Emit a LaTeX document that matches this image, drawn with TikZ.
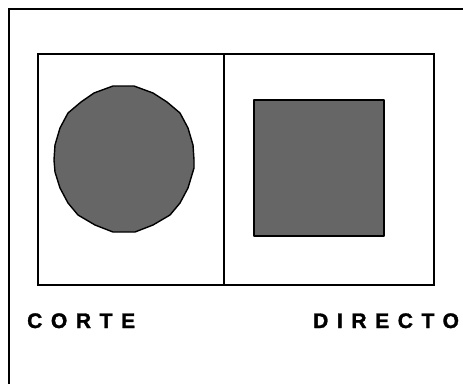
\documentclass[tikz,border=0pt]{standalone}
\usepackage{fontspec}
\setmainfont{Liberation Sans}
\newfontfamily\labelfont{Liberation Sans Bold}[LetterSpace=41,FakeBold=1.5]
\newcommand\captionfont{\labelfont\fontsize{21}{25}\selectfont}
\tikzset{
  frameline/.style={line width=2pt, line cap=rect},
  panel/.style={line width=2pt},
  solid shape/.style={draw=black, line width=1.4pt, fill=shapegray, line join=round},
  caption/.style={inner sep=0pt, anchor=base west},
}
\definecolor{shapegray}{HTML}{666666}
\begin{document}
\begin{tikzpicture}[x=1pt,y=-1pt]
\useasboundingbox (0,0) rectangle (463,383);
% outer frame (only top and left visible)
\coordinate (ftl) at (9,9);
\coordinate (ftr) at (470,9);
\coordinate (fbl) at (9,390);
\draw[frameline] (ftr) -- (ftl) -- (fbl);
% panels
\draw[panel] (38,54) rectangle (434,285);
\draw[panel] (224,54) -- (224,285);
% polygonal circle
\draw[solid shape] (113,86) -- (134,86) -- (153,93) -- (167,102) -- (180,113) -- (188,128) -- (193,145) -- (194,160) -- (194,168) -- (188,188) -- (180,203) -- (170,215) -- (153,225) -- (135,232) -- (113,232) -- (95,225) -- (78,215) -- (68,203) -- (60,188) -- (55,172) -- (54,160) -- (55,145) -- (60,128) -- (68,113) -- (81,102) -- (94,93) -- cycle;
% square
\draw[solid shape] (254,100) rectangle (384,236);
% labels
\node[caption] (corte) at (27,328) {\captionfont CORTE};
\node[caption] (directo) at (313,328) {\captionfont DIRECTO};
\end{tikzpicture}
\end{document}
